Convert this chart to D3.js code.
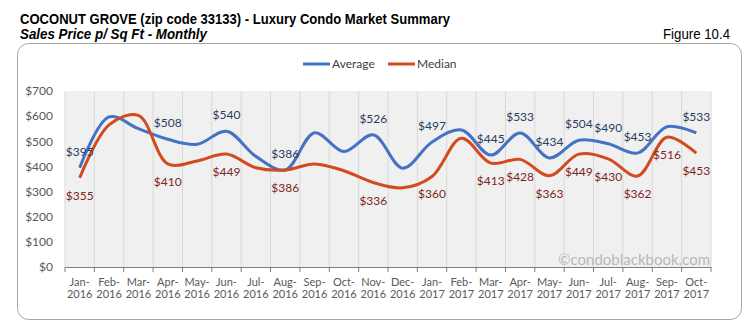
<!DOCTYPE html>
<html>
<head>
<meta charset="utf-8">
<script src="https://cdn.jsdelivr.net/npm/d3@7"></script>
<style>
  body { margin: 0; background: #fff; }
  svg { display: block; }
</style>
</head>
<body>
<div id="chart"></div>
<script>
// data
var months = ["Jan-2016","Feb-2016","Mar-2016","Apr-2016","May-2016","Jun-2016","Jul-2016","Aug-2016",
  "Sep-2016","Oct-2016","Nov-2016","Dec-2016","Jan-2017","Feb-2017","Mar-2017","Apr-2017",
  "May-2017","Jun-2017","Jul-2017","Aug-2017","Sep-2017","Oct-2017"];
var average = [395, 597, 550, 508, 488, 540, 440, 386, 534, 459, 526, 393, 497, 545, 445, 533, 434, 504, 490, 453, 558, 533];
var median  = [355, 565, 603, 410, 422, 449, 395, 386, 410, 383, 336, 315, 360, 512, 413, 428, 363, 449, 430, 362, 516, 453];
// which points carry a value label
var avgLabelled = [1,0,0,1,0,1,0,1,0,0,1,0,1,0,1,1,1,1,1,1,0,1];
var medLabelled = [1,0,0,1,0,1,0,1,0,0,1,0,1,0,1,1,1,1,1,1,1,1];
var yTicks = [0, 100, 200, 300, 400, 500, 600, 700];

var W = 749, H = 334;
var svg = d3.select("#chart").append("svg")
  .attr("width", W)
  .attr("height", H);

var head = "'Liberation Sans', Arial, sans-serif";
var body = "Lato, 'Open Sans', sans-serif";

// titles (squeezed to match the narrow face of the original)
svg.append("text")
  .attr("x", 20).attr("y", 24)
  .attr("textLength", 430)
  .attr("lengthAdjust", "spacingAndGlyphs")
  .style("font-family", head)
  .style("font-size", "15px")
  .style("font-weight", "bold")
  .style("fill", "#000")
  .text("COCONUT GROVE (zip code 33133) - Luxury Condo Market Summary");
svg.append("text")
  .attr("x", 20).attr("y", 39)
  .attr("textLength", 187)
  .attr("lengthAdjust", "spacingAndGlyphs")
  .style("font-family", head)
  .style("font-size", "14px")
  .style("font-style", "italic")
  .style("font-weight", "bold")
  .style("fill", "#000")
  .text("Sales Price  p/ Sq Ft - Monthly");
svg.append("text")
  .attr("x", 730).attr("y", 39)
  .attr("text-anchor", "end")
  .attr("textLength", 67)
  .attr("lengthAdjust", "spacingAndGlyphs")
  .style("font-family", head)
  .style("font-size", "14px")
  .style("fill", "#000")
  .text("Figure 10.4");

// frame
svg.append("rect")
  .attr("x", 17.5).attr("y", 43.5)
  .attr("width", 724).attr("height", 276)
  .attr("rx", 11)
  .attr("fill", "#fff")
  .attr("stroke", "#a6a6a6");

var x = d3.scaleBand()
  .domain(months)
  .range([65, 711]);
var y = d3.scaleLinear()
  .domain([0, 700])
  .range([267, 91]);

// plot background
svg.append("rect")
  .attr("x", x.range()[0]).attr("y", y(700))
  .attr("width", x.range()[1] - x.range()[0])
  .attr("height", y(0) - y(700))
  .attr("fill", "#f0f0f0");

// vertical grid at category boundaries
var bounds = months.map(function(m) { return x(m); }).concat([x.range()[1]]);
svg.selectAll(".vgrid")
  .data(bounds)
  .enter().append("line")
  .attr("class", "vgrid")
  .attr("x1", function(d) { return d; })
  .attr("x2", function(d) { return d; })
  .attr("y1", y(700)).attr("y2", y(0))
  .attr("stroke", "#d9d9d9")
  .attr("stroke-width", 1);

// y axis labels
svg.append("g")
  .attr("transform", "translate(65,0)")
  .call(d3.axisLeft(y).tickValues(yTicks).tickSize(0).tickPadding(12)
    .tickFormat(function(d) { return "$" + d; }))
  .call(function(g) { g.select(".domain").remove(); })
  .selectAll("text")
  .style("font-family", body)
  .style("font-size", "12px")
  .style("fill", "#595959");

// x axis
var xAxis = svg.append("g")
  .attr("transform", "translate(0," + y(0) + ")")
  .call(d3.axisBottom(x).tickSize(0).tickFormat(""));
xAxis.select(".domain").attr("stroke", "#7f7f7f");
xAxis.selectAll(".btick")
  .data(bounds)
  .enter().append("line")
  .attr("class", "btick")
  .attr("x1", function(d) { return d; })
  .attr("x2", function(d) { return d; })
  .attr("y1", 0).attr("y2", 5)
  .attr("stroke", "#7f7f7f");
xAxis.selectAll(".tick").each(function(d) {
  var parts = d.split("-");
  var t = d3.select(this).append("text")
    .attr("text-anchor", "middle")
    .style("font-family", body)
    .style("font-size", "11px")
    .style("fill", "#595959");
  t.append("tspan").attr("x", 0).attr("y", 19).text(parts[0] + "-");
  t.append("tspan").attr("x", 0).attr("y", 31).text(parts[1]);
});

// watermark
svg.append("text")
  .attr("x", 710).attr("y", 265)
  .attr("text-anchor", "end")
  .style("font-family", body)
  .style("font-size", "15px")
  .style("fill", "#b8b8b8")
  .text("\u00a9condoblackbook.com");

// lines
var cx = function(i) { return x(months[i]) + x.bandwidth() / 2; };
var line = d3.line()
  .x(function(d, i) { return cx(i); })
  .y(function(d) { return y(d); })
  .curve(d3.curveCatmullRom.alpha(0.5));

svg.append("path")
  .datum(average)
  .attr("fill", "none")
  .attr("stroke", "#4472c4")
  .attr("stroke-width", 3)
  .attr("d", line);
svg.append("path")
  .datum(median)
  .attr("fill", "none")
  .attr("stroke", "#d24a1e")
  .attr("stroke-width", 3)
  .attr("d", line);

// value labels: average above the line, median below
average.forEach(function(d, i) {
  if (!avgLabelled[i]) return;
  svg.append("text")
    .attr("x", cx(i))
    .attr("y", y(d) - 12)
    .attr("text-anchor", "middle")
    .style("font-family", body)
    .style("font-size", "12px")
    .style("fill", "#2b3d5c")
    .text("$" + d);
});

median.forEach(function(d, i) {
  if (!medLabelled[i]) return;
  svg.append("text")
    .attr("x", cx(i))
    .attr("y", y(d) + 22)
    .attr("text-anchor", "middle")
    .style("font-family", body)
    .style("font-size", "12px")
    .style("fill", "#7f1f1f")
    .text("$" + d);
});

// legend
var legend = svg.append("g");
var items = [{name: "Average", color: "#4472c4", x: 303}, {name: "Median", color: "#d24a1e", x: 388}];
items.forEach(function(it) {
  legend.append("line")
    .attr("x1", it.x).attr("x2", it.x + 27)
    .attr("y1", 64).attr("y2", 64)
    .attr("stroke", it.color)
    .attr("stroke-width", 3);
  legend.append("text")
    .attr("x", it.x + 29).attr("y", 68)
    .style("font-family", body)
    .style("font-size", "12px")
    .style("fill", "#404040")
    .text(it.name);
});
</script>
</body>
</html>
